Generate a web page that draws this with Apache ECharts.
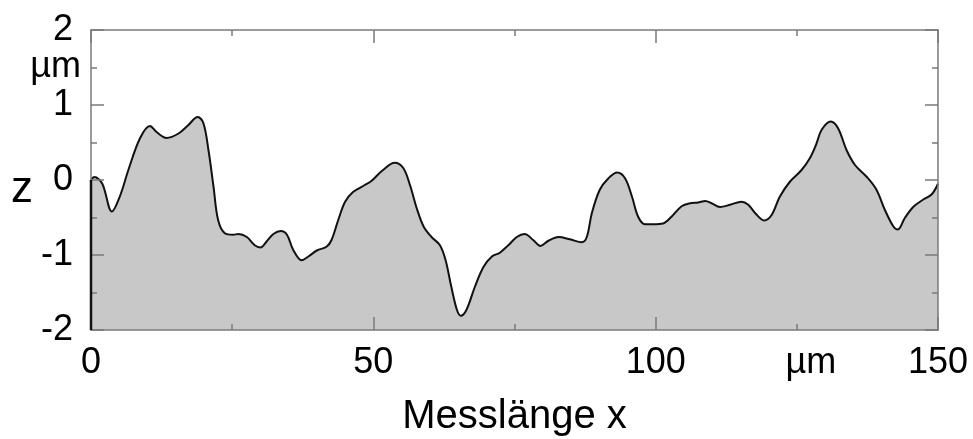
<!DOCTYPE html>
<html>
<head>
<meta charset="utf-8">
<script src="https://cdn.jsdelivr.net/npm/echarts@6/dist/echarts.min.js"></script>
<style>
  html, body { margin: 0; padding: 0; background: #fff; }
  #chart { width: 973px; height: 439px; }
</style>
</head>
<body>
<div id="chart"></div>
<script>
// Surface profile: position along the measuring length (µm) and height z (µm)
const positions = [
  0, 0.6, 2.0, 3.7, 5.2, 6.6, 8.7, 10.45, 11.6, 13.4, 15.5, 17.2, 18.9, 19.9, 20.8, 21.7, 22.5, 23.7, 25.2,
  26.1, 27.6, 29.0, 30.0, 31.1, 32.3, 33.6, 34.7, 35.8, 37.3, 38.5, 40.0, 41.7, 42.6, 43.8, 45.0, 46.4, 48.2,
  49.7, 51.5, 53.8, 55.3, 56.5, 57.7, 58.9, 60.3, 61.8, 62.8, 63.8, 64.8, 65.5, 66.5, 68.0, 69.5, 71.0, 72.4,
  73.9, 75.4, 76.8, 78.3, 79.6, 81.0, 82.8, 84.8, 86.9, 87.8, 88.7, 90.1, 91.6, 93.2, 94.6, 95.8, 96.9, 98.1,
  99.6, 101.3, 102.8, 104.6, 106.1, 107.5, 108.8, 109.9, 111.4, 113.2, 115.2, 116.4, 117.6, 119.2, 120.5,
  122.0, 123.8, 125.8, 127.3, 128.4, 129.4, 131.0, 132.3, 133.8, 135.3, 137.4, 139.1, 140.6, 142.1, 142.9,
  144.1, 145.6, 147.4, 148.9, 150
];
const heights = [
  0.0, 0.04, -0.05, -0.42, -0.2, 0.13, 0.56, 0.72, 0.64, 0.56, 0.62, 0.73, 0.84, 0.76, 0.4, -0.09, -0.53, -0.71, -0.73,
  -0.72, -0.76, -0.87, -0.9, -0.82, -0.72, -0.68, -0.73, -0.93, -1.07, -1.02, -0.94, -0.89, -0.8, -0.53, -0.29, -0.16, -0.08,
  -0.01, 0.12, 0.23, 0.16, -0.07, -0.38, -0.62, -0.76, -0.87, -1.07, -1.42, -1.73, -1.81, -1.73, -1.42, -1.16, -1.02, -0.97,
  -0.87, -0.76, -0.72, -0.8, -0.88, -0.81, -0.76, -0.79, -0.83, -0.76, -0.44, -0.13, 0.02, 0.1, 0.02, -0.22, -0.49, -0.59,
  -0.59, -0.58, -0.49, -0.35, -0.31, -0.3, -0.28, -0.31, -0.36, -0.33, -0.29, -0.33, -0.44, -0.54, -0.47,
  -0.22, -0.02, 0.13, 0.29, 0.47, 0.67, 0.78, 0.69, 0.4, 0.2, 0.04, -0.13, -0.4, -0.62, -0.66,
  -0.51, -0.36, -0.26, -0.19, -0.05
];

// Axis ranges and labels
const xRange = [0, 150];
const zRange = [-2, 2];
const xUnitAt = 125;   // the x tick that carries the unit instead of a number
const zUnitAt = 1.5;   // the z tick that carries the unit instead of a number
const unitLabel = 'µm';
const xTitle = 'Messlänge x';
const zTitle = 'z';

const FONT = "'Liberation Sans', Arial, sans-serif";
const frameColor = '#7a7a7a';
const tickFont = 36;

const profile = positions.map((x, i) => [x, heights[i]]);
// closing edge at the start of the profile, from the bottom of the range up to the first point
const startEdge = [[positions[0], zRange[0]], [positions[0], heights[0]]];

function frameAxis(extra) {
  return Object.assign({
    type: 'value',
    z: 10,
    axisLine: { show: true, onZero: false, lineStyle: { color: frameColor, width: 1.5 } },
    splitLine: { show: false },
    axisTick: { show: true, inside: true, length: 13, lineStyle: { color: frameColor, width: 1.5 } },
    minorTick: { show: true, splitNumber: 2, length: 6, lineStyle: { color: frameColor, width: 1.5 } },
    axisLabel: { show: false }
  }, extra);
}

const chart = echarts.init(document.getElementById('chart'), null, { renderer: 'canvas' });

chart.setOption({
  animation: false,
  backgroundColor: '#ffffff',
  grid: { left: 91, right: 35, top: 30, bottom: 109, containLabel: false, outerBoundsMode: 'none' },
  xAxis: [
    frameAxis({
      position: 'bottom', min: xRange[0], max: xRange[1], interval: 50,
      axisLabel: { show: true, margin: 15, color: '#000', fontSize: tickFont, fontFamily: FONT },
      name: xTitle, nameLocation: 'middle', nameGap: 67,
      nameTextStyle: { color: '#000', fontSize: 40, fontFamily: FONT }
    }),
    frameAxis({ position: 'top', min: xRange[0], max: xRange[1], interval: 50 }),
    {
      type: 'value', position: 'bottom', min: xRange[0], max: xRange[1], interval: 25, z: 10,
      axisLine: { show: false }, axisTick: { show: false }, splitLine: { show: false },
      axisLabel: {
        show: true, margin: 15, color: '#000', fontSize: tickFont, fontFamily: FONT,
        formatter: v => (v === xUnitAt ? '{u|' + unitLabel + '}' : ''),
        rich: { u: { fontSize: tickFont, fontFamily: FONT, color: '#000', padding: [0, 0, 0, 28] } }
      }
    }
  ],
  yAxis: [
    frameAxis({
      position: 'left', min: zRange[0], max: zRange[1], interval: 1,
      axisLabel: { show: true, margin: 18, color: '#000', fontSize: tickFont, fontFamily: FONT },
      name: zTitle, nameLocation: 'middle', nameRotate: 0, nameGap: 58,
      nameTextStyle: { color: '#000', fontSize: 44, fontFamily: FONT, verticalAlign: 'top', lineHeight: 20 }
    }),
    frameAxis({ position: 'right', min: zRange[0], max: zRange[1], interval: 1 }),
    {
      type: 'value', position: 'left', min: zRange[0], max: zRange[1], interval: 0.5, z: 10,
      axisLine: { show: false }, axisTick: { show: false }, splitLine: { show: false },
      axisLabel: {
        show: true, margin: 10, color: '#000', fontSize: tickFont, fontFamily: FONT,
        formatter: v => (v === zUnitAt ? unitLabel : '')
      }
    }
  ],
  series: [
    {
      type: 'line',
      data: profile,
      smooth: 0.35,
      symbol: 'none',
      z: 5,
      lineStyle: { color: '#111', width: 2 },
      areaStyle: { color: '#c8c8c8', opacity: 1, origin: 'start' }
    },
    {
      type: 'line',
      data: startEdge,
      symbol: 'none',
      z: 20,
      lineStyle: { color: '#111', width: 2.5 }
    }
  ]
});
</script>
</body>
</html>
